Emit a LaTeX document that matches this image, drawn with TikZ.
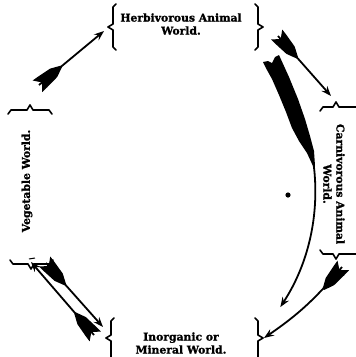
\documentclass[tikz,border=0pt]{standalone}
\usepackage{fontspec}
\newfontfamily\lblfont[FakeBold=1.3]{DejaVu Serif Bold}
\usetikzlibrary{arrows.meta,decorations.markings}
\begin{document}
\begin{tikzpicture}[x=1pt,y=-1pt,
  lbl/.style={font=\lblfont\fontsize{10.8}{13}\selectfont, align=center, inner sep=0pt},
  brk/.style={line width=1.6pt, line cap=round, line join=round},
  shaft/.style={line width=1.8pt, -{Stealth[length=10pt,width=7.5pt,inset=3.5pt]}},
  fletched/.style={shaft, postaction={decorate},
    decoration={markings, mark=at position 0 with {\fill (-2,7.5) -- (4,0) -- (-2,-7.5) -- (5,-7) -- (19,-5.5) -- (29,-1) -- (29,1) -- (19,5.5) -- (5,7) -- cycle;}}}
]
\useasboundingbox (0,0) rectangle (356,357);

% labels
\node[lbl] (herb) at (181,24) {Herbivorous Animal\\World.};
\node[lbl, rotate=-90] (carn) at (334,184) {Carnivorous Animal\\World.};
\node[lbl, rotate=90] (veg) at (27,181) {Vegetable World.};
\node[lbl] (inorg) at (181,343) {Inorganic or\\Mineral World.};

% brackets
\draw[brk] (116,4) -- (113,7) -- (113,24) -- (108,27) -- (113,30) -- (113,47) -- (116,50);
\draw[brk] (255,4) -- (258,7) -- (258,24) -- (263,27) -- (258,30) -- (258,47) -- (255,50);
\draw[brk] (114,318) -- (111,321) -- (111,335) -- (106,338) -- (111,341) -- (111,360);
\draw[brk] (255,318) -- (258,321) -- (258,335) -- (263,338) -- (258,341) -- (258,360);
\draw[brk] (8,114) -- (11,110) -- (27,110) -- (30,105) -- (33,110) -- (49,110) -- (52,114);
\draw[brk] (10,260) -- (13,264) -- (28,264) -- (31,269) -- (34,264) -- (50,264) -- (53,260);
\draw[line width=1pt] (29,259) -- (35,258);
\draw[brk] (320,111) -- (323,107) -- (333,107) -- (336,102) -- (339,107) -- (360,107);
\draw[brk] (320,250) -- (323,254) -- (333,254) -- (336,259) -- (339,254) -- (360,254);

% arrows
\coordinate (a1t) at (39,85);  \coordinate (a1h) at (104,31);
\coordinate (a2t) at (278,36); \coordinate (a2h) at (331,96);
\coordinate (a3t) at (342,267); \coordinate (a3h) at (264,338);
\coordinate (a4t) at (94,335); \coordinate (a4h) at (31,262);
\coordinate (a5t) at (46,263); \coordinate (a5h) at (103,327);
\draw[fletched] (a1t) -- (a1h);
\draw[fletched] (a2t) -- (a2h);
\draw[fletched] (a3t) to[bend left=8] (a3h);
\draw[fletched] (a4t) -- (a4h);
\draw[fletched] (a5t) -- (a5h);

% big curved arrow with long feather
\coordinate (bc) at (100,190);
\draw[shaft] (bc) ++(-30:215) arc[start angle=-30,end angle=33,radius=215];
\fill (279,55) -- (289,77) -- (298,99) -- (305,119) -- (310,136) -- (314,151) -- (315,166)
  -- (313,166) -- (307,153) -- (299,141) -- (292,128) -- (286,112) -- (279,95)
  -- (272,79) -- (267,70) -- (263,62) -- (268,61) -- (272,63) -- (275,57) -- cycle;

% dot
\fill (288,195) circle (2.6);
\end{tikzpicture}
\end{document}
